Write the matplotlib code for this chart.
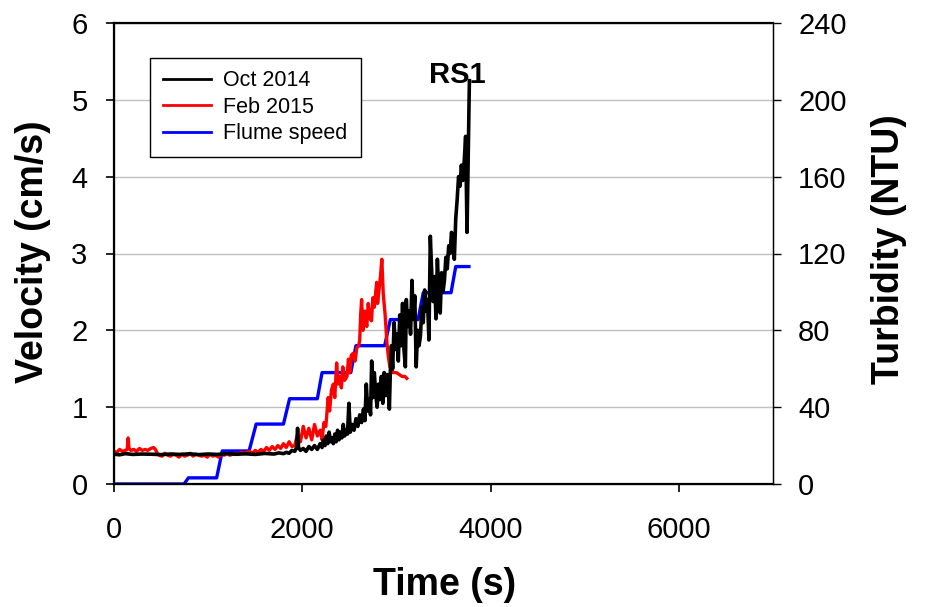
import numpy as np
import matplotlib
matplotlib.use('Agg')
import matplotlib.pyplot as plt

plt.rcParams['font.family'] = ['Liberation Sans', 'DejaVu Sans']

# Oct 2014 turbidity (NTU) vs time (s)
oct_t = [0, 60, 120, 200, 300, 400, 500, 600, 700, 800, 900, 1000, 1100, 1200, 1300,
         1400, 1500, 1600, 1700, 1750, 1800, 1830, 1860, 1890, 1920, 1940, 1950, 1960,
         1980, 2010, 2040, 2070, 2100, 2130, 2160, 2190, 2210, 2225, 2240, 2255, 2270,
         2285, 2300, 2315, 2330, 2345, 2360, 2375, 2390, 2405, 2420, 2435, 2450, 2465,
         2480, 2495, 2510, 2530, 2550, 2570, 2590, 2610, 2630, 2650, 2665, 2680, 2695,
         2710, 2725, 2737, 2750, 2765, 2780, 2795, 2810, 2825, 2840, 2855, 2870, 2885,
         2900, 2915, 2925, 2935, 2947, 2960, 2975, 2990, 3005, 3020, 3035, 3050, 3065,
         3080, 3095, 3105, 3120, 3135, 3150, 3165, 3180, 3195, 3210, 3225, 3240, 3255,
         3270, 3285, 3300, 3315, 3330, 3345, 3360, 3375, 3390, 3405, 3420, 3435, 3450,
         3465, 3480, 3495, 3510, 3525, 3540, 3555, 3570, 3585, 3600, 3615, 3630, 3645,
         3660, 3675, 3690, 3705, 3720, 3735, 3750, 3775]
oct_ntu = [15.5, 15.2, 15.8, 15.4, 15.6, 15.5, 15.3, 15.6, 15.4, 15.7, 15.3, 15.6, 15.4,
           15.8, 15.5, 15.7, 15.4, 15.9, 15.6, 16.2, 15.8, 16.5, 16, 17.5, 17, 19, 29, 19,
           17.5, 18.5, 17, 19.5, 18, 20, 18, 21, 19, 23, 20, 25, 21, 27, 22, 24, 21, 26,
           22, 28, 23, 27, 24, 31, 25, 28, 26, 42, 27, 31, 28, 34, 30, 36, 32, 39, 33, 52,
           38, 44, 36, 64, 45, 58, 47, 40, 52, 44, 56, 42, 58, 46, 57, 52, 39, 58, 72, 60,
           84, 70, 78, 64, 88, 72, 94, 70, 61, 96, 82, 90, 78, 106, 86, 98, 61, 80, 72, 77,
           92, 84, 101, 90, 96, 75, 129, 110, 95, 108, 86, 117, 100, 89, 110, 100, 106,
           118, 112, 124, 120, 131, 126, 117, 138, 148, 160, 155, 166, 158, 168, 181, 131,
           210]

# Feb 2015 turbidity (NTU) vs time (s)
feb_t = [0, 30, 60, 90, 120, 140, 150, 160, 180, 210,
         240, 270, 300, 330, 360, 390, 420, 440, 460, 480,
         510, 540, 570, 600, 630, 660, 690, 720, 750, 780,
         810, 840, 870, 900, 930, 960, 990, 1020, 1050, 1080,
         1110, 1140, 1170, 1200, 1230, 1260, 1290, 1320, 1350, 1380,
         1410, 1440, 1470, 1500, 1530, 1560, 1590, 1620, 1650, 1680,
         1710, 1740, 1770, 1800, 1830, 1860, 1890, 1920, 1950, 1980,
         2010, 2040, 2070, 2100, 2130, 2160, 2190, 2210, 2230, 2250,
         2275, 2290, 2310, 2330, 2345, 2365, 2380, 2400, 2415, 2430,
         2450, 2475, 2490, 2505, 2520, 2540, 2560, 2580, 2600, 2610,
         2620, 2630, 2645, 2665, 2685, 2700, 2720, 2735, 2750, 2765,
         2790, 2800, 2815, 2830, 2845, 2860, 2880, 2900, 2915, 2930,
         2950, 2965, 3000, 3030, 3060, 3090, 3110]
feb_ntu = [17, 16.5, 18, 17, 17.5, 18, 24, 18.5, 17.5, 18,
           17, 18.5, 17.5, 18, 17.5, 18.5, 19, 18, 16, 15,
           14.5, 16, 15, 14.5, 15.5, 15, 14, 15.5, 14.5, 15,
           16, 14.5, 15.5, 15, 14.5, 15, 14, 15.5, 14.5, 15,
           14, 15.5, 15, 16, 15, 15.5, 16, 15.5, 16.5, 16,
           16.5, 17, 16, 17.5, 16.5, 18, 17, 19, 17.5, 19.5,
           18, 20, 18.5, 21, 19, 22, 19.5, 20, 26, 22,
           30, 24, 29, 23, 31, 25, 28, 23, 32, 30,
           45, 38, 49, 52, 45, 63, 52, 56, 50, 61,
           54, 56, 65, 58, 67, 68, 64, 71, 72, 75,
           88, 96, 80, 90, 82, 94, 86, 85, 97, 92,
           105, 94, 101, 108, 117, 99, 88, 73, 66, 61,
           60, 58, 58, 57, 56, 56, 55]

# flume speed (cm/s) vs time (s)
flume_t = [0, 745, 790, 1090, 1150, 1435, 1510, 1800, 1865, 2160, 2210, 2515, 2570,
           2875, 2935, 3230, 3285, 3580, 3630, 3770]
flume_v = [0, 0, 0.08, 0.08, 0.43, 0.43, 0.78, 0.78, 1.11, 1.11, 1.45, 1.45, 1.80, 1.80,
           2.14, 2.14, 2.49, 2.49, 2.83, 2.83]

fig = plt.figure(figsize=(9.3, 6.07), dpi=100)
ax = fig.add_axes([114 / 930, 1 - 484 / 607, 659 / 930, 461 / 607])
ax2 = ax.twinx()

l3, = ax.plot(flume_t, flume_v, color='#0000ff', lw=2.4, label='Flume speed')
l2, = ax2.plot(feb_t, feb_ntu, color='#ff0000', lw=2.4, label='Feb 2015')
l1, = ax2.plot(oct_t, oct_ntu, color='black', lw=2.6, label='Oct 2014')

ax.set_xlim(0, 7000)
ax.set_ylim(0, 6)
ax2.set_ylim(0, 240)
ax.set_xticks([0, 2000, 4000, 6000])
ax.set_yticks(np.arange(0, 7, 1))
ax2.set_yticks(np.arange(0, 241, 40))
ax.yaxis.grid(True, color='#c0c0c0', lw=1)
ax.set_axisbelow(True)

ax.tick_params(axis='x', direction='out', length=6, width=1.2, labelsize=21, pad=17)
ax.tick_params(axis='y', direction='out', length=6, width=1.2, labelsize=21, pad=13)
ax2.tick_params(axis='y', direction='out', length=6, width=1.0, labelsize=21, pad=12)
for s in ['left', 'bottom', 'top']:
    ax.spines[s].set_linewidth(1.6)
ax2.spines['right'].set_linewidth(1.0)

ax.set_xlabel('Time (s)', fontsize=27, fontweight='bold')
ax.set_ylabel('Velocity (cm/s)', fontsize=27, fontweight='bold')
ax2.set_ylabel('Turbidity (NTU)', fontsize=27, fontweight='bold')
ax.xaxis.set_label_coords(0.502, -0.18)
ax.yaxis.set_label_coords(-0.095, 0.505)
ax2.yaxis.set_label_coords(1.148, 0.51)

ax.text(3650, 5.22, 'RS1', fontsize=21, fontweight='bold', ha='center', va='baseline')

leg = ax2.legend(handles=[l1, l2, l3], loc='upper left', bbox_to_anchor=(0.055, 0.925),
                 borderaxespad=0, fontsize=15.5, fancybox=False, edgecolor='black',
                 framealpha=1, handlelength=2.2, handletextpad=0.6, labelspacing=0.25,
                 borderpad=0.6)
leg.get_frame().set_linewidth(1.0)
for h in leg.legend_handles:
    h.set_linewidth(2.0)

plt.savefig('out.png', dpi=100, facecolor='white')
